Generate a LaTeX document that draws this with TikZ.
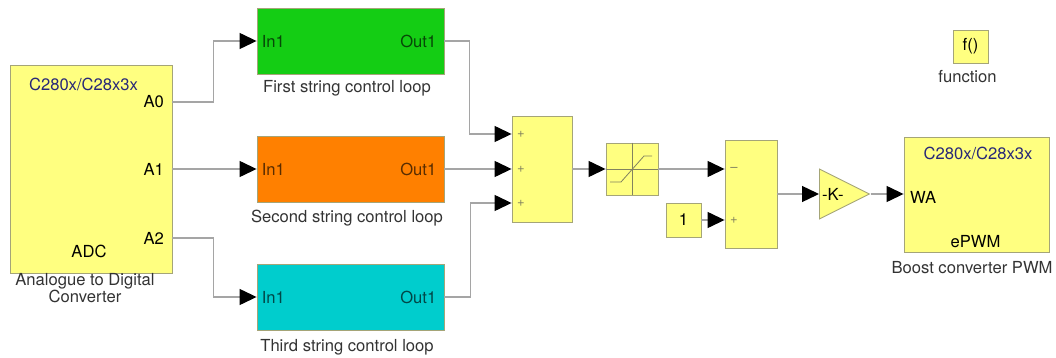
\documentclass[tikz,border=0pt]{standalone}
\usepackage{fontspec}
\setmainfont{TeX Gyre Heros}
\usetikzlibrary{arrows.meta,shapes.geometric}

\definecolor{blockyellow}{RGB}{255,255,128}
\definecolor{blockedge}{RGB}{165,165,120}
\definecolor{wiregray}{RGB}{165,165,165}
\definecolor{satline}{RGB}{130,130,95}
\definecolor{loopgreen}{RGB}{20,205,20}
\definecolor{looporange}{RGB}{255,128,0}
\definecolor{loopcyan}{RGB}{0,205,205}
\definecolor{chipblue}{RGB}{40,40,120}

\tikzset{
  every node/.style={font=\fontsize{16.6}{17}\selectfont},
  block/.style={draw=blockedge, fill=blockyellow, line width=0.9pt, inner sep=0pt},
  loopblock/.style={draw=blockedge, line width=0.9pt, minimum width=187pt, minimum height=66pt, inner sep=0pt},
  port/.style={inner sep=0pt},
  sign/.style={inner sep=0pt, text=satline, font=\fontsize{13}{13}\selectfont},
  caption/.style={anchor=base, inner sep=0pt, text=black!80, align=center},
  gainblock/.style={draw=blockedge, fill=blockyellow, line width=0.9pt, inner sep=0pt,
    shape=isosceles triangle, isosceles triangle stretches, minimum width=50pt, minimum height=50pt},
  wire/.style={draw=wiregray, line width=1.3pt, -{Triangle[length=17pt,width=16pt,color=black,fill=black]}},
}

\begin{document}
\begin{tikzpicture}[x=1pt,y=-1pt]
	\useasboundingbox (0,0) rectangle (1056,358);
	% ADC block
	\node[block, minimum width=162pt, minimum height=208pt] (adc) at (91,169) {};
	\node[port, text=chipblue] (adcchip) at (83.5,84) {C280x/C28x3x};
	\node[port, anchor=east] (a0) at (164,102) {A0};
	\node[port, anchor=east] (a1) at (164,169) {A1};
	\node[port, anchor=east] (a2) at (164,238) {A2};
	\node[port] (adcname) at (89,251) {ADC};
	\node[caption, anchor=north] (adccap) at (85,273) {Analogue to Digital\\Converter};
	% the three control loops
	\foreach \n/\col/\lname/\y/\capy in {1/loopgreen/First/41/93, 2/looporange/Second/169/222, 3/loopcyan/Third/297/351} {
		\node[loopblock, fill=\col] (loop\n) at (350.5,\y) {};
		\node[port, anchor=west, text=\col!35!black] (in\n) at ([xshift=5pt]loop\n.west) {In1};
		\node[port, anchor=east, text=\col!35!black] (out\n) at ([xshift=-8pt]loop\n.east) {Out1};
		\node[caption] (cap\n) at (347,\capy) {\lname\ string control loop};
	}
	% sum of the loops
	\node[block, minimum width=60pt, minimum height=106pt] (sum1) at (542,169) {};
	\node[sign] (p1) at (521,134) {+};
	\node[sign] (p2) at (521,169) {+};
	\node[sign] (p3) at (521,203) {+};
	% saturation
	\node[block, minimum width=52pt, minimum height=52pt] (sat) at (632,169) {};
	\draw[satline, line width=0.8pt] (sat.north) -- (sat.south) (sat.west) -- (sat.east);
	\draw[satline, line width=0.8pt] ([shift={(-22,13)}]sat.center) -- ++(11,0) -- ++(23,-26) -- ++(8,0);
	% constant and difference
	\node[block, minimum width=35pt, minimum height=34pt] (const) at (683.5,220) {1};
	\node[block, minimum width=52pt, minimum height=108pt] (sum2) at (751,194) {};
	\node[sign] (m1) at (734,169) {\textendash};
	\node[sign] (m2) at (734,220) {+};
	% gain
	\node[gainblock, anchor=lower side] (gain) at (819,194) {};
	\node[port, anchor=west] (gaink) at ([xshift=3pt]gain.lower side) {-K-};
	% PWM block
	\node[block, minimum width=145pt, minimum height=115pt] (pwm) at (976.5,194.5) {};
	\node[port, text=chipblue] (pwmchip) at (978,153) {C280x/C28x3x};
	\node[port, anchor=west] (wa) at (910,197) {WA};
	\node[port] (epwm) at (975.5,241.5) {ePWM};
	\node[caption] (pwmcap) at (972,273) {Boost converter PWM};
	% function
	\node[block, minimum width=35pt, minimum height=33pt] (func) at (970.5,46.5) {f()};
	\node[caption] (funccap) at (967.5,83) {function};
	% wires
	\draw[wire] (a0.east -| adc.east) -- ++(41,0) |- (loop1.west);
	\draw[wire] (a1.east -| adc.east) -- (loop2.west);
	\draw[wire] (a2.east -| adc.east) -- ++(41,0) |- (loop3.west);
	\draw[wire] (loop1.east) -- ++(25,0) |- (sum1.west |- p1);
	\draw[wire] (loop2.east) -- (sum1.west |- p2);
	\draw[wire] (loop3.east) -- ++(26,0) |- (sum1.west |- p3);
	\draw[wire] (sum1.east) -- (sat.west);
	\draw[wire] (sat.east) -- (sum2.west |- m1);
	\draw[wire] (const.east) -- (sum2.west |- m2);
	\draw[wire] (sum2.east) -- (gain.lower side);
	\draw[wire] (gain.apex) -- (pwm.west |- gain.apex);
\end{tikzpicture}
\end{document}
